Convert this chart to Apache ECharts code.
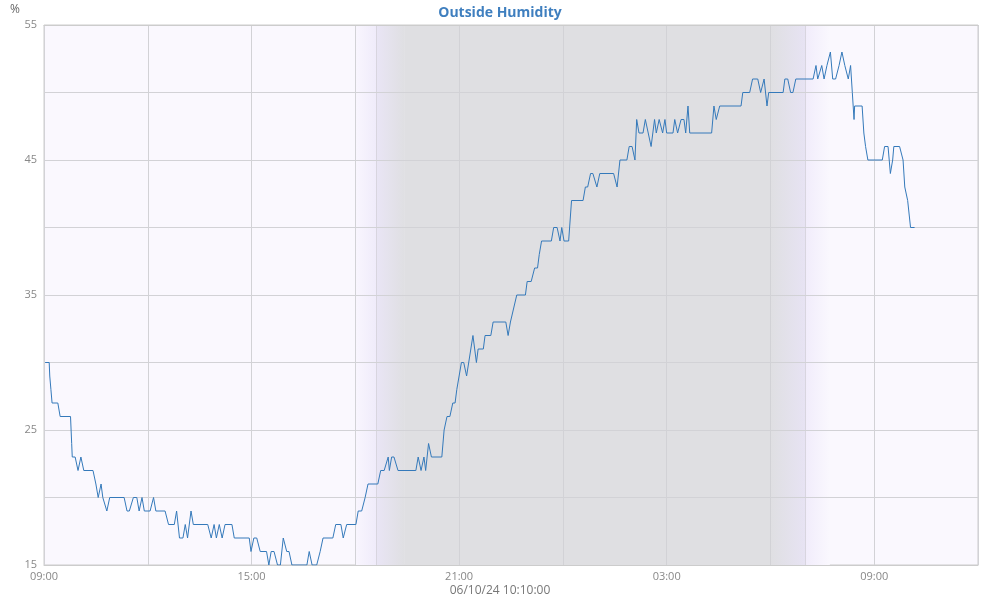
<!DOCTYPE html>
<html>
<head>
<meta charset="utf-8">
<script src="https://cdn.jsdelivr.net/npm/echarts@6/dist/echarts.min.js"></script>
<style>html,body{margin:0;padding:0;background:#fff}#c{width:1000px;height:600px}</style>
</head>
<body>
<div id="c"></div>
<script>
// minutes after 06/09/24 09:00
var minutes = [2,9,10,12,14,24,28,46,48,49,54,59,64,69,85,90,94,99,102,109,114,139,144,148,155,161,165,170,174,184,190,194,210,216,226,230,235,241,245,249,255,259,284,290,295,299,304,309,314,326,330,356,359,364,369,375,386,390,394,399,405,410,415,421,425,430,456,460,465,473,479,484,501,506,515,519,525,541,545,551,557,562,579,584,590,597,599,603,607,614,645,649,654,659,662,667,672,690,694,699,704,709,713,716,720,724,728,733,744,747,750,753,762,765,775,779,801,805,809,820,835,838,845,851,856,859,863,880,884,890,895,898,902,910,915,935,939,943,948,952,959,964,988,994,999,1011,1015,1020,1025,1028,1032,1039,1043,1046,1053,1059,1062,1067,1073,1077,1080,1091,1094,1099,1105,1110,1113,1117,1120,1158,1162,1166,1169,1172,1209,1212,1224,1229,1238,1243,1249,1254,1257,1282,1285,1290,1295,1299,1304,1334,1339,1342,1349,1353,1358,1364,1366,1368,1373,1379,1384,1389,1395,1399,1402,1405,1406,1419,1422,1425,1429,1454,1458,1464,1468,1472,1474,1484,1490,1493,1498,1503,1510];
var humidity = [30,30,29,28,27,27,26,26,24,23,23,22,23,22,22,21,20,21,20,19,20,20,19,19,20,20,19,20,19,19,20,19,19,18,18,19,17,17,18,17,19,18,18,17,18,17,18,17,18,18,17,17,16,17,17,16,16,15,16,16,15,15,17,16,16,15,15,16,15,15,16,17,17,18,18,17,18,18,19,19,20,21,21,22,22,23,22,23,23,22,22,23,22,23,22,24,23,23,25,26,26,27,27,28,29,30,30,29,32,31,30,31,31,32,32,33,33,32,33,35,35,36,36,37,37,38,39,39,40,40,39,40,39,39,42,42,43,43,44,44,43,44,44,43,45,45,46,46,45,48,47,47,48,48,46,48,47,48,47,48,47,47,48,47,48,48,47,49,47,47,49,48,48,49,49,50,50,51,51,50,51,49,50,50,51,51,50,50,51,51,52,51,52,51,52,53,53,51,51,52,53,52,51,52,50,48,49,49,47,46,45,45,46,46,44,45,46,46,45,43,42,40,40];
// twilight / night bands (minutes after 09:00)
var duskStart = 540, sunset = 577, nightStart = 626, nightEnd = 1260, sunrise = 1320, dawnEnd = 1363;
var yTicks = [15, 25, 35, 45, 55];
var xLabelHours = ['09:00', '15:00', '21:00', '03:00', '09:00'];
var subtitle = '06/10/24 10:10:00';

var seriesData = minutes.map(function (m, i) { return [m, humidity[i]]; });
function grad(a, b) {
  return { type: 'linear', x: 0, y: 0, x2: 1, y2: 0, colorStops: [{ offset: 0, color: a }, { offset: 1, color: b }] };
}
var chart = echarts.init(document.getElementById('c'), null, { renderer: 'canvas' });
var font = 'Open Sans';
var gridColor = '#d2d2d6';
chart.setOption({
  animation: false,
  textStyle: { fontFamily: font },
  title: {
    text: 'Outside Humidity', left: 'center', top: 1,
    textStyle: { color: '#3f7fbf', fontSize: 14, fontWeight: 'bold', fontFamily: font }
  },
  graphic: [
    { type: 'text', left: 10, top: 4, style: { text: '%', fill: '#666', font: '12px "Open Sans"' } },
    { type: 'text', left: 'center', top: 585, style: { text: subtitle, fill: '#777', font: '12px "Open Sans"' } }
  ],
  grid: { left: 44, right: 22, top: 25, bottom: 35, show: true, backgroundColor: '#faf8fe', borderColor: '#cccccc', borderWidth: 1 },
  xAxis: [{
    type: 'value', min: 0, max: 1620, interval: 180, z: 2,
    axisLine: { show: true, onZero: false, lineStyle: { color: '#cccccc', width: 1 } }, axisTick: { show: false },
    splitLine: { show: true, lineStyle: { color: gridColor, width: 1 } },
    axisLabel: {
      color: '#888', fontSize: 11, margin: 6, showMaxLabel: false,
      formatter: function (v) { return v % 360 === 0 ? xLabelHours[v / 360] : ''; }
    }
  }, {
    type: 'value', position: 'top', min: 0, max: 1620, interval: 180, z: 2,
    axisLine: { show: true, onZero: false, lineStyle: { color: '#cccccc', width: 1 } },
    axisTick: { show: false }, axisLabel: { show: false }, splitLine: { show: false }
  }],
  yAxis: {
    type: 'value', min: 15, max: 55, interval: 5, z: 2,
    axisLine: { show: false }, axisTick: { show: false },
    splitLine: { show: true, lineStyle: { color: gridColor, width: 1 } },
    axisLabel: {
      color: '#888', fontSize: 11, margin: 7,
      formatter: function (v) { return yTicks.indexOf(v) >= 0 ? String(v) : ''; }
    }
  },
  series: [
    {
      type: 'line', data: [], z: 1, silent: true,
      markArea: {
        silent: true, z: 1,
        data: [
          [{ xAxis: duskStart, yAxis: 15, itemStyle: { color: grad('#f9f6fe', '#efebfa') } }, { xAxis: sunset, yAxis: 55 }],
          [{ xAxis: sunset, yAxis: 15, itemStyle: { color: grad('#e9e5f5', '#dfdfe2') } }, { xAxis: nightStart, yAxis: 55 }],
          [{ xAxis: nightStart, yAxis: 15, itemStyle: { color: '#dfdfe2' } }, { xAxis: nightEnd, yAxis: 55 }],
          [{ xAxis: nightEnd, yAxis: 15, itemStyle: { color: grad('#dfdfe2', '#e7e3f3') } }, { xAxis: sunrise, yAxis: 55 }],
          [{ xAxis: sunrise, yAxis: 15, itemStyle: { color: grad('#f1ecfb', '#faf8fe') } }, { xAxis: dawnEnd, yAxis: 55 }]
        ]
      },
      markLine: {
        silent: true, z: 1, symbol: 'none', label: { show: false },
        lineStyle: { color: '#d8d5df', width: 1, type: 'solid' },
        data: [{ xAxis: sunset }, { xAxis: sunrise }]
      }
    },
    {
      type: 'line', data: seriesData, z: 3, showSymbol: false, symbol: 'none',
      lineStyle: { color: '#3479ba', width: 1 }, itemStyle: { color: '#3479ba' }
    }
  ]
});
</script>
</body>
</html>
